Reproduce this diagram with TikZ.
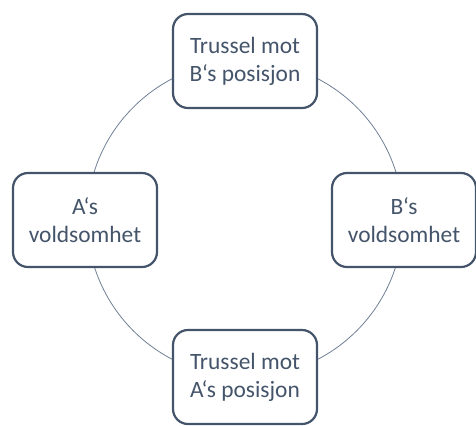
\documentclass[tikz,border=0pt]{standalone}
\usepackage{fontspec}
\setmainfont{Carlito}[Ligatures=ResetAll]
\definecolor{boxc}{HTML}{44546A}
\definecolor{ringc}{HTML}{6F7F95}
\begin{document}
\begin{tikzpicture}[x=1bp,y=-1bp,
  cyclebox/.style={draw=boxc, line width=2.2bp, fill=white, rounded corners=15bp,
    minimum width=144bp, minimum height=94bp, align=center, text=boxc,
    font=\fontsize{23.5}{28}\selectfont, inner sep=0pt},
  ring/.style={draw=ringc, line width=0.8bp}]
\useasboundingbox (0,0) rectangle (476,425);
\coordinate (c) at (245,219);
\draw[ring] (c) circle[radius=158bp];
\node[cyclebox] (top) at (245,61) {Trussel mot\\B`s posisjon};
\node[cyclebox] (left) at (85,220) {A`s\\voldsomhet};
\node[cyclebox] (right) at (404,220) {B`s\\voldsomhet};
\node[cyclebox] (bottom) at (245,377) {Trussel mot\\A`s posisjon};
\end{tikzpicture}
\end{document}
